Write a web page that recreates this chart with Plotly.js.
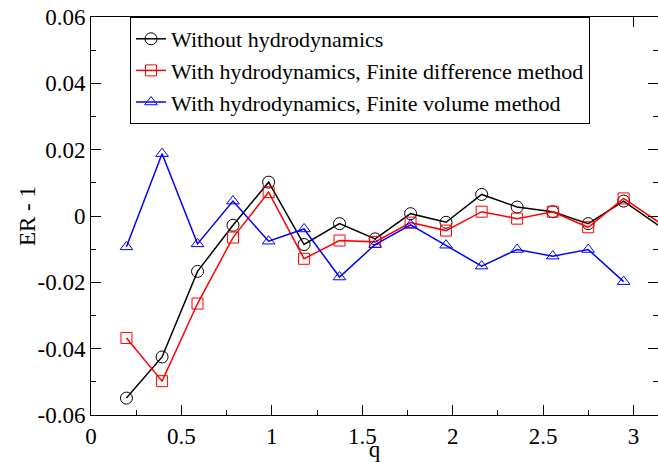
<!DOCTYPE html>
<html>
<head>
<meta charset="utf-8">
<script src="https://cdn.plot.ly/plotly-3.0.1.min.js"></script>
<style>
html,body{margin:0;padding:0;overflow:hidden;background:#fff}
</style>
</head>
<body>
<div id="chart" style="width:658px;height:462px"></div>
<script>
// q values (wavenumbers)
const q = [0.196, 0.393, 0.589, 0.785, 0.982, 1.178, 1.374, 1.571, 1.767, 1.963, 2.160, 2.356, 2.553, 2.749, 2.945, 3.142];
const withoutHydro = [-0.0549, -0.0425, -0.0167, -0.0028, 0.0102, -0.0086, -0.0023, -0.0069, 0.0007, -0.0019, 0.0065, 0.0027, 0.0013, -0.0023, 0.0045, -0.0030];
const finiteDiff = [-0.0368, -0.0498, -0.0264, -0.0065, 0.0072, -0.0129, -0.0074, -0.0078, -0.0020, -0.0044, 0.0013, -0.0008, 0.0013, -0.0034, 0.0053, -0.0020];
const qVolume = [0.196, 0.393, 0.589, 0.785, 0.982, 1.178, 1.374, 1.571, 1.767, 1.963, 2.160, 2.356, 2.553, 2.749, 2.945];
const finiteVol = [-0.0093, 0.0188, -0.0084, 0.0045, -0.0076, -0.0039, -0.0184, -0.0086, -0.0027, -0.0088, -0.0151, -0.0101, -0.0121, -0.0101, -0.0198];

const seriesNames = ["Without hydrodynamics", "With hydrodynamics, Finite difference method", "With hydrodynamics, Finite volume method"];

const yTickVals = [-0.06, -0.04, -0.02, 0, 0.02, 0.04, 0.06];
const yTickText = ["-0.06", "-0.04", "-0.02", "0", "0.02", "0.04", "0.06"];
const yMinorVals = [-0.05, -0.03, -0.01, 0.01, 0.03, 0.05];
const xTickVals = [0, 0.5, 1, 1.5, 2, 2.5, 3];
const xTickText = ["0", "0.5", "1", "1.5", "2", "2.5", "3"];
const xMinorVals = [0.25, 0.75, 1.25, 1.75, 2.25, 2.75];

const FONT = 'Times New Roman, Liberation Serif, DejaVu Serif, serif';

function buildTraces() {
  return [
    {x: q, y: withoutHydro, name: seriesNames[0], mode: 'lines+markers', cliponaxis: false,
     line: {color: '#000000', width: 1.5},
     marker: {symbol: 'circle-open', size: 12, color: '#000000', line: {width: 1}}},
    {x: q, y: finiteDiff, name: seriesNames[1], mode: 'lines+markers', cliponaxis: false,
     line: {color: '#ff0000', width: 1.5},
     marker: {symbol: 'square-open', size: 11, color: '#ff0000', line: {width: 1}}},
    {x: qVolume, y: finiteVol, name: seriesNames[2], mode: 'lines+markers', cliponaxis: false,
     line: {color: '#0000ff', width: 1.5},
     marker: {symbol: 'triangle-up-open', size: 11, color: '#0000ff', line: {width: 1}}}
  ];
}

function buildLayout() {
  return {
    width: 658, height: 462,
    margin: {l: 91, r: 0, t: 17, b: 47, pad: 0},
    paper_bgcolor: '#fff', plot_bgcolor: '#fff',
    font: {family: FONT, size: 23, color: '#000'},
    showlegend: true,
    xaxis: {
      showgrid: false, zeroline: false, showline: true, linecolor: '#000', linewidth: 1,
      mirror: 'ticks', ticks: 'inside', ticklen: 10, tickwidth: 1, tickcolor: '#000',
      tickfont: {family: FONT, size: 23, color: '#000'},
      range: [0, 3.135], tickmode: 'array', tickvals: xTickVals, ticktext: xTickText,
      minor: {tickmode: 'array', tickvals: xMinorVals, ticks: 'inside', ticklen: 5, tickwidth: 1, tickcolor: '#000'},
      title: {text: 'q', font: {family: FONT, size: 23, color: '#000'}}
    },
    yaxis: {
      showgrid: false, zeroline: false, showline: true, linecolor: '#000', linewidth: 1,
      mirror: 'ticks', ticks: 'inside', ticklen: 10, tickwidth: 1, tickcolor: '#000',
      tickfont: {family: FONT, size: 23, color: '#000'},
      range: [-0.06, 0.06], tickmode: 'array', tickvals: yTickVals, ticktext: yTickText,
      minor: {tickmode: 'array', tickvals: yMinorVals, ticks: 'inside', ticklen: 5, tickwidth: 1, tickcolor: '#000'},
      title: {text: 'ER - 1', font: {family: FONT, size: 23, color: '#000'}}
    },
    legend: {
      x: 0.0688, y: 1, xanchor: 'left', yanchor: 'top',
      bgcolor: '#fff', bordercolor: '#000', borderwidth: 1,
      font: {family: FONT, size: 22, color: '#000'}
    }
  };
}

function draw() {
  return Plotly.newPlot('chart', buildTraces(), buildLayout(), {displayModeBar: false, staticPlot: true});
}

draw().then(function () {
  try {
    document.fonts.check('23px "Times New Roman"');
    document.fonts.check('23px "Liberation Serif"');
  } catch (e) {}
  // redraw once the serif font has been resolved, so text is laid out with it
  setTimeout(draw, 120);
  setTimeout(draw, 500);
});
</script>
</body>
</html>
